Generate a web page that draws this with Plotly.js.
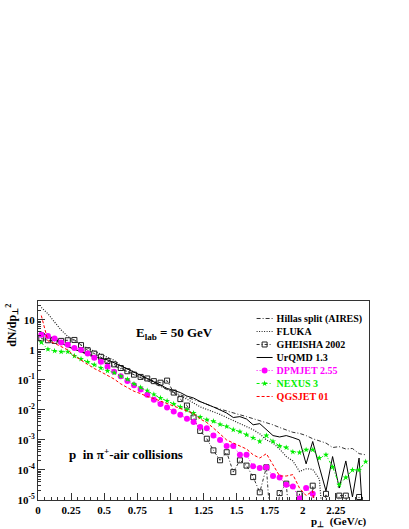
<!DOCTYPE html>
<html>
<head>
<meta charset="utf-8">
<script src="https://cdn.plot.ly/plotly-3.0.1.min.js"></script>
<style>
  html, body { margin: 0; padding: 0; background: #fff; }
  #plot { width: 409px; height: 529px; }
</style>
</head>
<body>
<div id="plot"></div>
<script>
// p_T bin centres (GeV/c)
var pt = [0.025, 0.075, 0.125, 0.175, 0.225, 0.275, 0.325, 0.375, 0.425, 0.475,
          0.525, 0.575, 0.625, 0.675, 0.725, 0.775, 0.825, 0.875, 0.925, 0.975,
          1.025, 1.075, 1.125, 1.175, 1.225, 1.275, 1.325, 1.375, 1.425, 1.475,
          1.525, 1.575, 1.625, 1.675, 1.725, 1.775, 1.825, 1.875, 1.925, 1.975,
          2.025, 2.075, 2.125, 2.175, 2.225, 2.275, 2.325, 2.375, 2.425, 2.475];

// dN/dp_T^2 per model (1e-7 = empty bin, below the axis)
var hillas = [4.0, 3.0, 2.3, 1.74, 1.35, 1.07, 0.85, 0.69, 0.56, 0.46,
              0.37, 0.30, 0.24, 0.19, 0.15, 0.12, 0.095, 0.076, 0.060, 0.048,
              0.038, 0.032, 0.026, 0.022, 0.019, 0.015, 0.0126, 0.0107, 0.0091, 0.0079,
              0.0069, 0.0060, 0.0052, 0.0044, 0.0038, 0.0032, 0.0026, 0.0022, 0.0018, 0.00166,
              0.0014, 0.0011, 0.00095, 0.00079, 0.00056, 0.0006, 0.0005, 0.00052, 0.00035, 0.00032];
var fluka = [26, 16, 8.5, 4.6, 2.8, 2.1, 1.45, 1.15, 0.95, 0.76,
             0.6, 0.45, 0.30, 0.24, 0.19, 0.145, 0.11, 0.083, 0.066, 0.050,
             0.038, 0.029, 0.023, 0.017, 0.0126, 0.0105, 0.0087, 0.0071, 0.0056, 0.0045,
             0.0035, 0.0028, 0.0022, 0.0016, 0.001, 0.00079, 0.0005, 0.00028, 0.0002, 0.000089,
             0.00011, 0.000105, 0.00005, 1e-7, 1e-7, 1e-7, 1e-7, 1e-7, 1e-7, 1e-7];
var gheisha = [2.4, 2.1, 2.0, 2.0, 2.1, 2.15, 1.45, 0.98, 0.76, 0.59,
               0.43, 0.33, 0.25, 0.195, 0.15, 0.126, 0.112, 0.091, 0.081, 0.095,
               0.038, 0.023, 0.014, 0.0056, 0.002, 0.0011, 0.00045, 0.00021, 0.00039, 0.000085,
               0.00021, 0.00014, 0.000058, 0.000018, 0.000123, 1e-7, 0.000017, 0.000035, 1e-7, 0.000016,
               1e-7, 0.00003, 1e-7, 0.000016, 1e-7, 0.000014, 0.000014, 1e-7, 0.0000126, 1e-7];
var urqmd = [3.8, 2.9, 2.1, 1.66, 1.29, 1.05, 0.89, 0.76, 0.63, 0.52,
             0.47, 0.38, 0.30, 0.234, 0.182, 0.145, 0.112, 0.087, 0.068, 0.052,
             0.045, 0.038, 0.029, 0.025, 0.019, 0.0158, 0.0126, 0.01, 0.0079, 0.0056,
             0.006, 0.005, 0.0032, 0.0035, 0.0022, 0.0014, 0.00126, 0.0014, 0.0012, 0.001,
             0.00016, 0.00089, 0.000126, 0.00002, 0.00028, 0.000025, 0.0002, 0.0000126, 0.00025, 1e-7];
var dpmjet = [3.2, 2.9, 2.4, 1.78, 1.5, 1.17, 1.0, 0.76, 0.55, 0.40,
              0.275, 0.186, 0.132, 0.093, 0.066, 0.048, 0.032, 0.022, 0.0158, 0.012,
              0.0089, 0.0069, 0.0051, 0.004, 0.0027, 0.00245, 0.0014, 0.001, 0.00063, 0.00063,
              0.00032, 0.00032, 0.000132, 0.000117, 0.000123, 0.000063, 0.000056, 0.000032, 0.000028, 0.0000112,
              0.000025, 0.000016, 1e-7, 1e-7, 1e-7, 1e-7, 1e-7, 1e-7, 1e-7, 1e-7];
var nexus = [1.78, 1.05, 0.93, 0.87, 0.87, 0.63, 0.5, 0.4, 0.32, 0.25,
             0.2, 0.174, 0.132, 0.105, 0.074, 0.056, 0.044, 0.033, 0.025, 0.02,
             0.0158, 0.0126, 0.01, 0.0079, 0.0058, 0.0047, 0.0042, 0.0033, 0.0028, 0.0022,
             0.0019, 0.0015, 0.00117, 0.00089, 0.0014, 0.00089, 0.00063, 0.00056, 0.0004, 0.00038,
             0.00047, 0.00047, 0.00025, 0.00032, 0.000126, 0.000032, 0.000056, 0.0001, 0.0001, 0.00019];
var qgsjet = [14, 2.0, 1.66, 1.32, 1.0, 0.63, 0.45, 0.32, 0.24, 0.186,
              0.145, 0.107, 0.074, 0.055, 0.042, 0.035, 0.028, 0.024, 0.02, 0.0166,
              0.0138, 0.0112, 0.0095, 0.0076, 0.005, 0.0038, 0.0025, 0.0016, 0.001, 0.00079,
              0.00063, 0.0005, 0.00032, 0.00025, 0.00035, 0.00014, 0.000063, 0.000063, 0.00007, 0.000025,
              0.000014, 0.00002, 1e-7, 1e-7, 1e-7, 1e-7, 1e-7, 1e-7, 1e-7, 1e-7];

var xtickvals = [0, 0.25, 0.5, 0.75, 1, 1.25, 1.5, 1.75, 2, 2.25];
var xticktext = ['0', '0.25', '0.5', '0.75', '1', '1.25', '1.5', '1.75', '2', '2.25'];
var ytickvals = [1e-5, 1e-4, 1e-3, 1e-2, 1e-1, 1, 10];
var yticktext = ['10<sup>-5</sup>', '10<sup>-4</sup>', '10<sup>-3</sup>', '10<sup>-2</sup>',
                 '10<sup>-1</sup>', '1', '10'];

// minor log ticks 2..9 per decade
var yminor = [];
for (var d = -5; d <= 1; d++) {
  for (var m = 2; m <= 9; m++) yminor.push(m * Math.pow(10, d));
}

var serif = 'Liberation Serif, Times New Roman, serif';
var magenta = '#ff00ff';
var green = '#00ee00';
var red = '#ff0000';

var data = [
  {
    x: pt, y: hillas, mode: 'lines', type: 'scatter',
    line: {color: '#333', width: 1, dash: '4px,2px,1px,2px'},
    name: 'Hillas split (AIRES)'
  },
  {
    x: pt, y: fluka, mode: 'lines', type: 'scatter',
    line: {color: '#222', width: 1.2, dash: '1px,1.5px'},
    name: 'FLUKA'
  },
  {
    x: pt, y: gheisha, mode: 'lines+markers', type: 'scatter',
    line: {color: '#333', width: 1, dash: '3px,2px,1px,2px'},
    marker: {symbol: 'square-open', size: 5, color: '#222', line: {width: 1}},
    name: 'GHEISHA 2002'
  },
  {
    x: pt, y: urqmd, mode: 'lines', type: 'scatter',
    line: {color: '#000', width: 1},
    name: 'UrQMD 1.3'
  },
  {
    x: pt, y: dpmjet, mode: 'lines+markers', type: 'scatter',
    line: {color: magenta, width: 1, dash: '1px,2px'},
    marker: {symbol: 'circle', size: 6, color: magenta},
    name: '<span style="color:#ff00ff">DPMJET 2.55</span>'
  },
  {
    x: pt, y: nexus, mode: 'lines+markers', type: 'scatter',
    line: {color: green, width: 1, dash: '3px,2px,1px,2px'},
    marker: {symbol: 'star', size: 4.5, color: green},
    name: '<span style="color:#00ee00">NEXUS 3</span>'
  },
  {
    x: pt, y: qgsjet, mode: 'lines', type: 'scatter',
    line: {color: red, width: 1, dash: '3px,2px'},
    name: '<span style="color:#ff0000">QGSJET 01</span>'
  }
];

var layout = {
  width: 409,
  height: 529,
  margin: {l: 38, r: 40, t: 301, b: 29},
  paper_bgcolor: '#fff',
  plot_bgcolor: '#fff',
  font: {family: serif, size: 11, color: '#000'},
  showlegend: true,
  legend: {
    x: 0.60, xanchor: 'left', y: 0.985, yanchor: 'top',
    bgcolor: 'rgba(0,0,0,0)', borderwidth: 0,
    font: {family: serif, size: 10, weight: 700, color: '#000'},
    itemwidth: 30, tracegroupgap: 0
  },
  xaxis: {
    range: [0, 2.5],
    showline: true, mirror: true, linecolor: '#333', linewidth: 1,
    showgrid: false, zeroline: false,
    ticks: 'inside', ticklen: 7, tickcolor: '#333',
    tickmode: 'array', tickvals: xtickvals, ticktext: xticktext,
    tickfont: {family: serif, size: 11, weight: 700},
    minor: {dtick: 0.05, tick0: 0, ticks: 'inside', ticklen: 3, tickcolor: '#333'}
  },
  yaxis: {
    type: 'log',
    range: [-5, 1.63],
    showline: true, mirror: true, linecolor: '#333', linewidth: 1,
    showgrid: false, zeroline: false,
    ticks: 'inside', ticklen: 7, tickcolor: '#333',
    tickmode: 'array', tickvals: ytickvals, ticktext: yticktext,
    tickfont: {family: serif, size: 11, weight: 700},
    minor: {tickmode: 'array', tickvals: yminor, ticks: 'inside', ticklen: 3, tickcolor: '#333'}
  },
  annotations: [
    {
      text: 'dN/dp<sub>⊥</sub><sup>2</sup>', textangle: -90,
      xref: 'paper', yref: 'paper', x: -0.0775, y: 1, xanchor: 'center', yanchor: 'top', yshift: -1,
      showarrow: false, font: {family: serif, size: 12, weight: 700}
    },
    {
      text: 'p<sub>⊥</sub>  (GeV/c)',
      xref: 'paper', yref: 'paper', x: 1, y: 0, xanchor: 'right', yanchor: 'top', yshift: -13,
      showarrow: false, font: {family: serif, size: 11, weight: 700}
    },
    {
      text: 'E<sub>lab</sub> = 50 GeV',
      xref: 'paper', yref: 'paper', x: 0.411, y: 0.839, xanchor: 'center', yanchor: 'middle',
      showarrow: false, font: {family: serif, size: 13, weight: 700}
    },
    {
      text: 'p  in π<sup>+</sup>-air collisions',
      xref: 'paper', yref: 'paper', x: 0.266, y: 0.231, xanchor: 'center', yanchor: 'middle',
      showarrow: false, font: {family: serif, size: 13, weight: 700}
    }
  ]
};

Plotly.newPlot('plot', data, layout, {staticPlot: true}).then(function (gd) {
  // squeeze legend rows and shorten the samples, as in the original
  var items = gd.querySelectorAll('.legend .traces');
  var y0 = null;
  items.forEach(function (g, i) {
    var m = /translate\(([^,]+),\s*([^)]+)\)/.exec(g.getAttribute('transform'));
    if (!m) return;
    if (y0 === null) y0 = parseFloat(m[2]);
    g.setAttribute('transform', 'translate(' + m[1] + ',' + (y0 + i * 13) + ')');
    g.querySelectorAll('path.js-line').forEach(function (p) {
      p.setAttribute('d', 'M20,0h16');
    });
    g.querySelectorAll('.legendpoints').forEach(function (p) {
      p.setAttribute('transform', 'translate(8,0)');
    });
  });
});
</script>
</body>
</html>
